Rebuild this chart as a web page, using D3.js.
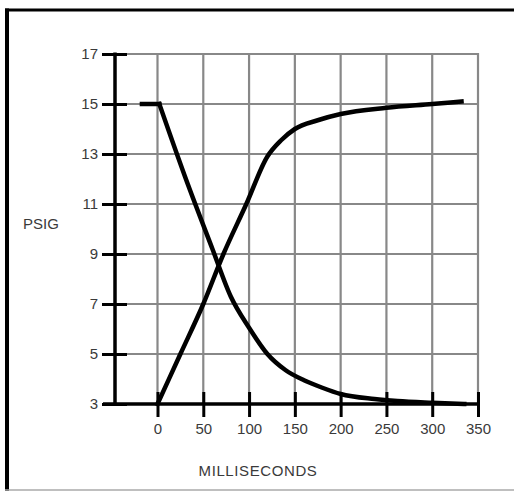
<!DOCTYPE html>
<html>
<head>
<meta charset="utf-8">
<script src="https://cdn.jsdelivr.net/npm/d3@7.9.0/dist/d3.min.js"></script>
<style>
  html, body { margin: 0; padding: 0; background: #fff; }
  svg { display: block; }
  text { font-family: "Liberation Sans", Arial, sans-serif; fill: #3a3a3a; }
</style>
</head>
<body>
<svg id="chart" width="514" height="491"></svg>
<script>
// tick values
const xTicks = [0, 50, 100, 150, 200, 250, 300, 350];
const yTicks = [3, 5, 7, 9, 11, 13, 15, 17];

// falling curve (ms, psig): flat lead-in, then the decay
const fallingLeadMs   = [-17, 2];
const fallingLeadPsig = [15, 15];
const fallingMs   = [2, 30, 60, 80, 100, 120, 140, 160, 180, 200, 237, 262, 300, 335];
const fallingPsig = [15, 12.1, 9.2, 7.3, 6.05, 5.0, 4.35, 3.95, 3.65, 3.4, 3.2, 3.12, 3.05, 3.0];

// rising curve (ms, psig)
const risingMs   = [0, 25, 50, 72, 97, 120, 135, 150, 175, 200, 250, 300, 332];
const risingPsig = [3, 5, 7, 9, 11, 12.9, 13.55, 14.0, 14.35, 14.6, 14.85, 15.0, 15.1];

const svg = d3.select('#chart');

// outer frame
svg.append('line').attr('x1', 5).attr('x2', 514).attr('y1', 10).attr('y2', 10)
  .attr('stroke', '#000').attr('stroke-width', 3);
svg.append('line').attr('x1', 7).attr('x2', 7).attr('y1', 8.5).attr('y2', 491)
  .attr('stroke', '#000').attr('stroke-width', 4);
svg.append('line').attr('x1', 5).attr('x2', 514).attr('y1', 490).attr('y2', 490)
  .attr('stroke', '#aaa').attr('stroke-width', 1.5);

let x = d3.scaleLinear().domain([0, 350]).range([157.5, 478]);
let y = d3.scaleLinear().domain([3, 17]).range([404, 54]);
const axisX = 115;

// grid
const grid = svg.append('g').attr('stroke', '#888').attr('stroke-width', 2.2);
grid.selectAll('line.h').data(yTicks.slice(1)).join('line')
  .attr('class', 'h')
  .attr('x1', axisX).attr('x2', x(350) + 1)
  .attr('y1', d => y(d)).attr('y2', d => y(d));
grid.selectAll('line.v').data(xTicks).join('line')
  .attr('class', 'v')
  .attr('x1', d => x(d)).attr('x2', d => x(d))
  .attr('y1', y(17) - 1).attr('y2', y(3));

// y axis
let yAxis = svg.append('g')
  .attr('transform', `translate(${axisX},0)`)
  .call(d3.axisLeft(y).tickValues(yTicks).tickSize(13).tickPadding(4));
yAxis.select('.domain').remove();
yAxis.selectAll('.tick line').attr('x1', -13).attr('x2', 12)
  .attr('stroke', '#000').attr('stroke-width', 3);
yAxis.selectAll('.tick text').attr('x', -17)
  .style('font-size', '15px').attr('fill', '#3a3a3a');
yAxis.append('line').attr('x1', 0).attr('x2', 0).attr('y1', y(17) - 1.5).attr('y2', y(3))
  .attr('stroke', '#000').attr('stroke-width', 3.5);

// x axis
let xAxis = svg.append('g')
  .attr('transform', `translate(0,${y(3)})`)
  .call(d3.axisBottom(x).tickValues(xTicks).tickSize(13));
xAxis.select('.domain').remove();
xAxis.selectAll('.tick line').attr('y1', -12).attr('y2', 13)
  .attr('stroke', '#000').attr('stroke-width', 3);
xAxis.selectAll('.tick text').attr('y', 25).attr('dy', '0.35em')
  .style('font-size', '15px').attr('fill', '#3a3a3a');
xAxis.append('line').attr('x1', axisX - 12).attr('x2', x(350) + 1).attr('y1', 0).attr('y2', 0)
  .attr('stroke', '#000').attr('stroke-width', 3.5);

// labels
svg.append('text').attr('x', 23).attr('y', 229)
  .style('font-size', '15px').text('PSIG');
svg.append('text').attr('x', 258).attr('y', 476).attr('text-anchor', 'middle')
  .style('font-size', '15px').style('letter-spacing', '0.6px').text('MILLISECONDS');

// curves
const smooth = d3.line()
  .x(d => x(d[0]))
  .y(d => y(d[1]))
  .curve(d3.curveMonotoneX);
const straight = d3.line()
  .x(d => x(d[0]))
  .y(d => y(d[1]));

const fallingLead = fallingLeadMs.map((m, i) => [m, fallingLeadPsig[i]]);
const falling = fallingMs.map((m, i) => [m, fallingPsig[i]]);
const rising = risingMs.map((m, i) => [m, risingPsig[i]]);

[straight(fallingLead), smooth(falling), smooth(rising)].forEach(d => {
  svg.append('path')
    .attr('d', d)
    .attr('fill', 'none')
    .attr('stroke', '#000')
    .attr('stroke-width', 4.5)
    .attr('stroke-linecap', 'square')
    .attr('stroke-linejoin', 'miter');
});
</script>
</body>
</html>
